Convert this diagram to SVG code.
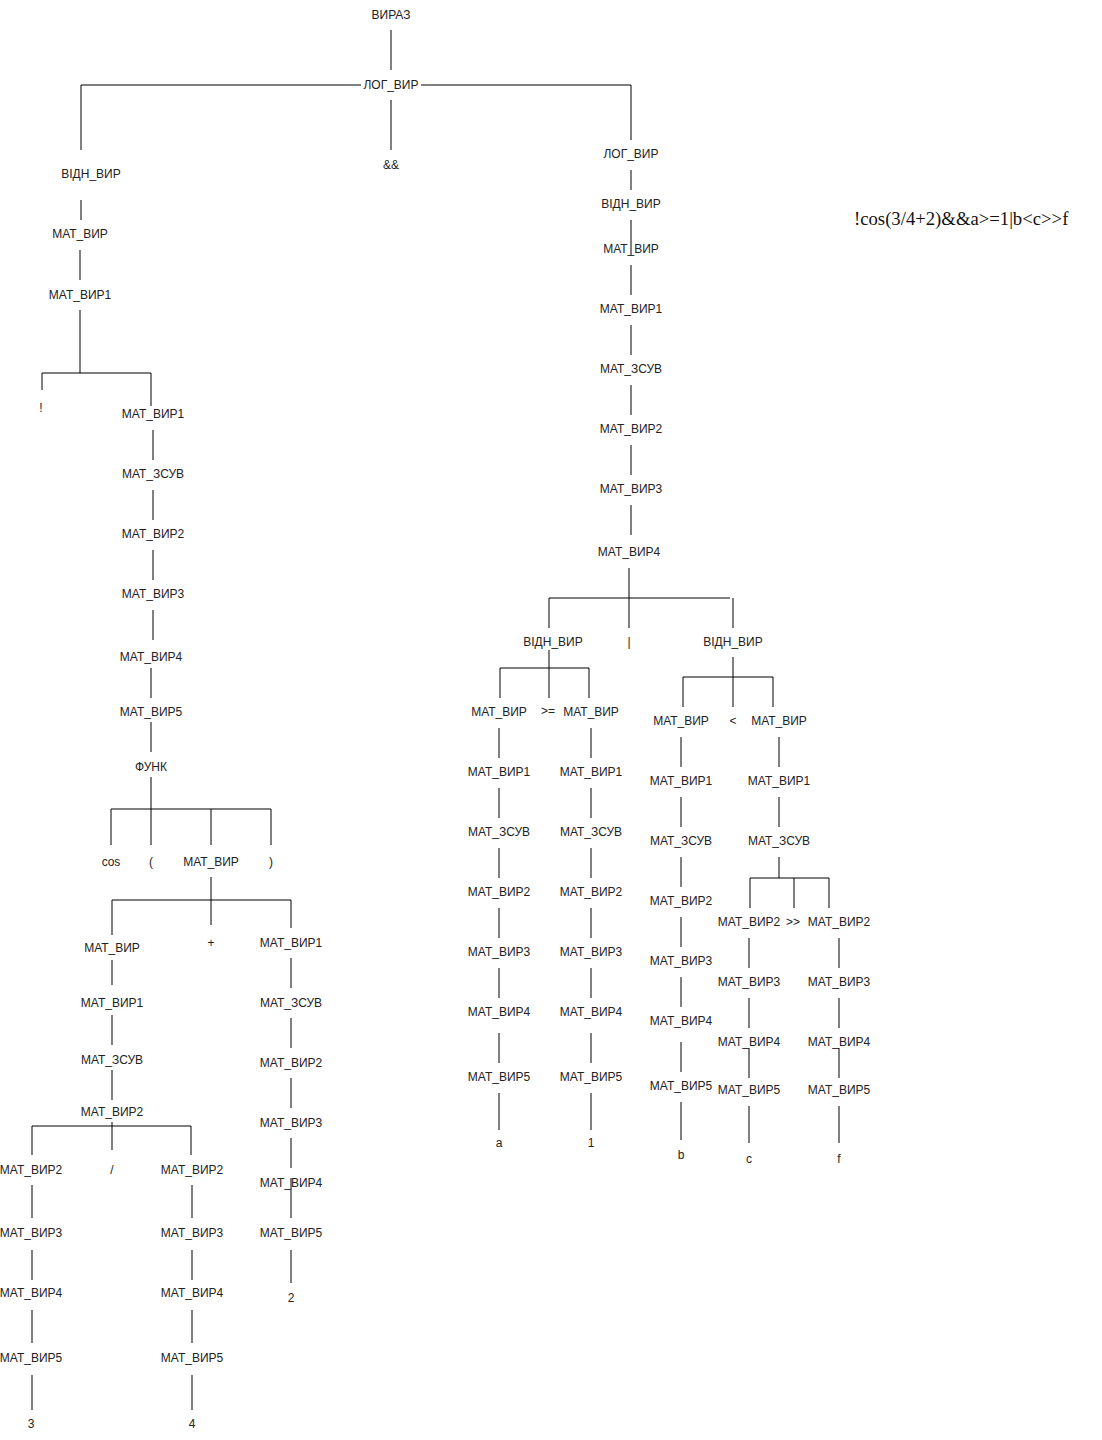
<svg xmlns="http://www.w3.org/2000/svg" width="1102" height="1440" viewBox="0 0 1102 1440">
<style>
text{font-family:"Liberation Sans",Arial,sans-serif;font-size:12px;fill:#222;text-anchor:middle;dominant-baseline:central}
.e{stroke:#000;stroke-width:1;fill:none}
.f{font-family:"Liberation Serif","Times New Roman",serif;font-size:18.7px;fill:#111;text-anchor:start}
</style>
<rect width="1102" height="1440" fill="#fff"/>
<g id="connectors" class="e">
<path d="M391 30V70 M81 150V85H361 M421 85H631V140 M391 100V150"/>
<path d="M81 200V220 M80 250V280 M80 310V373 M42 390V373H151V406"/>
<path d="M153 430V460 M153 490V520 M153 550V580 M153 610V640 M151 668V698 M151 722V752 M151 777V809"/>
<path d="M111 845V809H271V845 M151 809V845 M211 809V845"/>
<path d="M211 877V900 M112 935V900H291V928 M211 900V925"/>
<path d="M112 960V985 M112 1015V1045 M112 1070V1100 M112 1122V1150 M32 1155V1126H191V1155"/>
<path d="M32 1185V1218 M32 1250V1280 M32 1310V1343 M32 1375V1410"/>
<path d="M192 1185V1218 M192 1250V1280 M192 1310V1343 M192 1375V1410"/>
<path d="M291 958V988 M291 1018V1048 M291 1078V1108 M291 1138V1168 M291 1178V1218 M291 1250V1283"/>
<path d="M631 170V190 M631 220V255 M631 265V295 M631 325V355 M631 385V415 M631 445V475 M631 505V535 M629 568V628"/>
<path d="M549 628V598H730 M733 598V628"/>
<path d="M549 650V698 M500 698V668H589V698"/>
<path d="M499 728V758 M499 788V818 M499 848V878 M499 908V938 M499 968V998 M499 1033V1063 M499 1093V1130"/>
<path d="M591 728V758 M591 788V818 M591 848V878 M591 908V938 M591 968V998 M591 1033V1063 M591 1093V1130"/>
<path d="M733 657V707 M683 707V677H773V707"/>
<path d="M681 737V767 M681 797V827 M681 857V887 M681 917V947 M681 977V1007 M681 1042V1072 M681 1102V1140"/>
<path d="M779 737V767 M779 797V827 M779 857V878 M794 878V908 M750 908V878H829V908"/>
<path d="M749 938V968 M749 998V1028 M749 1048V1078 M749 1106V1143"/>
<path d="M839 938V968 M839 998V1028 M839 1048V1078 M839 1106V1143"/>
</g>
<g id="n_root"><text x="391" y="15">ВИРАЗ</text></g>
<g id="n_log"><text x="391" y="85">ЛОГ_ВИР</text></g>
<g id="n_and"><text x="391" y="165">&amp;&amp;</text></g>
<g id="n_l_vidn"><text x="91" y="174">ВІДН_ВИР</text></g>
<g id="n_l_mat"><text x="80" y="234">МАТ_ВИР</text></g>
<g id="n_l_mat1"><text x="80" y="295">МАТ_ВИР1</text></g>
<g id="n_not"><text x="41" y="408">!</text></g>
<g id="n_l_mat1b"><text x="153" y="414">МАТ_ВИР1</text></g>
<g id="n_l_zsuv"><text x="153" y="474">МАТ_ЗСУВ</text></g>
<g id="n_l_mat2"><text x="153" y="534">МАТ_ВИР2</text></g>
<g id="n_l_mat3"><text x="153" y="594">МАТ_ВИР3</text></g>
<g id="n_l_mat4"><text x="151" y="657">МАТ_ВИР4</text></g>
<g id="n_l_mat5"><text x="151" y="712">МАТ_ВИР5</text></g>
<g id="n_func"><text x="151" y="767">ФУНК</text></g>
<g id="n_cos"><text x="111" y="862">cos</text></g>
<g id="n_lp"><text x="151" y="862">(</text></g>
<g id="n_f_mat"><text x="211" y="862">МАТ_ВИР</text></g>
<g id="n_rp"><text x="271" y="862">)</text></g>
<g id="n_a_mat"><text x="112" y="948">МАТ_ВИР</text></g>
<g id="n_plus"><text x="211" y="943">+</text></g>
<g id="n_b_mat1"><text x="291" y="943">МАТ_ВИР1</text></g>
<g id="n_a_mat1"><text x="112" y="1003">МАТ_ВИР1</text></g>
<g id="n_a_zsuv"><text x="112" y="1060">МАТ_ЗСУВ</text></g>
<g id="n_a_mat2"><text x="112" y="1112">МАТ_ВИР2</text></g>
<g id="n_d_mat2a"><text x="31" y="1170">МАТ_ВИР2</text></g>
<g id="n_div"><text x="112" y="1170">/</text></g>
<g id="n_d_mat2b"><text x="192" y="1170">МАТ_ВИР2</text></g>
<g id="n_d_mat3a"><text x="31" y="1233">МАТ_ВИР3</text></g>
<g id="n_d_mat4a"><text x="31" y="1293">МАТ_ВИР4</text></g>
<g id="n_d_mat5a"><text x="31" y="1358">МАТ_ВИР5</text></g>
<g id="n_3"><text x="31" y="1424">3</text></g>
<g id="n_d_mat3b"><text x="192" y="1233">МАТ_ВИР3</text></g>
<g id="n_d_mat4b"><text x="192" y="1293">МАТ_ВИР4</text></g>
<g id="n_d_mat5b"><text x="192" y="1358">МАТ_ВИР5</text></g>
<g id="n_4"><text x="192" y="1424">4</text></g>
<g id="n_b_zsuv"><text x="291" y="1003">МАТ_ЗСУВ</text></g>
<g id="n_b_mat2"><text x="291" y="1063">МАТ_ВИР2</text></g>
<g id="n_b_mat3"><text x="291" y="1123">МАТ_ВИР3</text></g>
<g id="n_b_mat4"><text x="291" y="1183">МАТ_ВИР4</text></g>
<g id="n_b_mat5"><text x="291" y="1233">МАТ_ВИР5</text></g>
<g id="n_2"><text x="291" y="1298">2</text></g>
<g id="n_r_log"><text x="631" y="154">ЛОГ_ВИР</text></g>
<g id="n_r_vidn"><text x="631" y="204">ВІДН_ВИР</text></g>
<g id="n_r_mat"><text x="631" y="249">МАТ_ВИР</text></g>
<g id="n_r_mat1"><text x="631" y="309">МАТ_ВИР1</text></g>
<g id="n_r_zsuv"><text x="631" y="369">МАТ_ЗСУВ</text></g>
<g id="n_r_mat2"><text x="631" y="429">МАТ_ВИР2</text></g>
<g id="n_r_mat3"><text x="631" y="489">МАТ_ВИР3</text></g>
<g id="n_r_mat4"><text x="629" y="552">МАТ_ВИР4</text></g>
<g id="n_v1"><text x="553" y="642">ВІДН_ВИР</text></g>
<g id="n_or"><text x="629" y="642">|</text></g>
<g id="n_v2"><text x="733" y="642">ВІДН_ВИР</text></g>
<g id="n_p_mat"><text x="499" y="712">МАТ_ВИР</text></g>
<g id="n_ge"><text x="548" y="711">&gt;=</text></g>
<g id="n_q_mat"><text x="591" y="712">МАТ_ВИР</text></g>
<g id="n_p_mat1"><text x="499" y="772">МАТ_ВИР1</text></g>
<g id="n_p_zsuv"><text x="499" y="832">МАТ_ЗСУВ</text></g>
<g id="n_p_mat2"><text x="499" y="892">МАТ_ВИР2</text></g>
<g id="n_p_mat3"><text x="499" y="952">МАТ_ВИР3</text></g>
<g id="n_p_mat4"><text x="499" y="1012">МАТ_ВИР4</text></g>
<g id="n_p_mat5"><text x="499" y="1077">МАТ_ВИР5</text></g>
<g id="n_a"><text x="499" y="1143">a</text></g>
<g id="n_q_mat1"><text x="591" y="772">МАТ_ВИР1</text></g>
<g id="n_q_zsuv"><text x="591" y="832">МАТ_ЗСУВ</text></g>
<g id="n_q_mat2"><text x="591" y="892">МАТ_ВИР2</text></g>
<g id="n_q_mat3"><text x="591" y="952">МАТ_ВИР3</text></g>
<g id="n_q_mat4"><text x="591" y="1012">МАТ_ВИР4</text></g>
<g id="n_q_mat5"><text x="591" y="1077">МАТ_ВИР5</text></g>
<g id="n_1"><text x="591" y="1143">1</text></g>
<g id="n_s_mat"><text x="681" y="721">МАТ_ВИР</text></g>
<g id="n_lt"><text x="733" y="721">&lt;</text></g>
<g id="n_t_mat"><text x="779" y="721">МАТ_ВИР</text></g>
<g id="n_s_mat1"><text x="681" y="781">МАТ_ВИР1</text></g>
<g id="n_s_zsuv"><text x="681" y="841">МАТ_ЗСУВ</text></g>
<g id="n_s_mat2"><text x="681" y="901">МАТ_ВИР2</text></g>
<g id="n_s_mat3"><text x="681" y="961">МАТ_ВИР3</text></g>
<g id="n_s_mat4"><text x="681" y="1021">МАТ_ВИР4</text></g>
<g id="n_s_mat5"><text x="681" y="1086">МАТ_ВИР5</text></g>
<g id="n_b"><text x="681" y="1155">b</text></g>
<g id="n_t_mat1"><text x="779" y="781">МАТ_ВИР1</text></g>
<g id="n_t_zsuv"><text x="779" y="841">МАТ_ЗСУВ</text></g>
<g id="n_u_mat2"><text x="749" y="922">МАТ_ВИР2</text></g>
<g id="n_shr"><text x="793" y="922">&gt;&gt;</text></g>
<g id="n_w_mat2"><text x="839" y="922">МАТ_ВИР2</text></g>
<g id="n_u_mat3"><text x="749" y="982">МАТ_ВИР3</text></g>
<g id="n_u_mat4"><text x="749" y="1042">МАТ_ВИР4</text></g>
<g id="n_u_mat5"><text x="749" y="1090">МАТ_ВИР5</text></g>
<g id="n_c"><text x="749" y="1159">c</text></g>
<g id="n_w_mat3"><text x="839" y="982">МАТ_ВИР3</text></g>
<g id="n_w_mat4"><text x="839" y="1042">МАТ_ВИР4</text></g>
<g id="n_w_mat5"><text x="839" y="1090">МАТ_ВИР5</text></g>
<g id="n_f"><text x="839" y="1159">f</text></g>
<g id="formula"><text class="f" x="854" y="218">!cos(3/4+2)&amp;&amp;a&gt;=1|b&lt;c&gt;&gt;f</text></g>
</svg>
